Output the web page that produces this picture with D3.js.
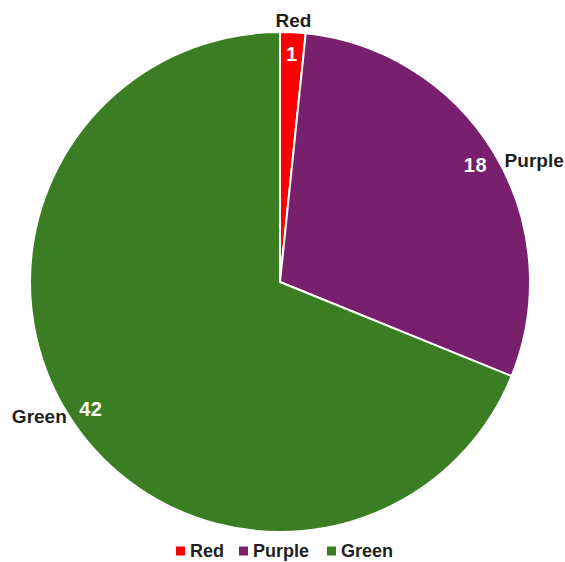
<!DOCTYPE html>
<html><head><meta charset="utf-8">
<script src="https://cdn.jsdelivr.net/npm/d3@7"></script>
<style>body{margin:0;background:#fff}</style>
</head><body>
<svg id="c" width="565" height="562"></svg>
<script>
const categories = ["Red", "Purple", "Green"];
const values = [1, 18, 42];
const colors = ["#FF0000", "#78206E", "#3B7D23"];

const svg = d3.select("#c");
const cx = 280, cy = 282, R = 250;
const font = "'Liberation Sans', Arial, sans-serif";
const data = categories.map((c, i) => ({cat: c, val: values[i], col: colors[i]}));
const pie = d3.pie().value(d => d.val).sort(null);
const arcs = pie(data);
const arc = d3.arc().innerRadius(0).outerRadius(R);
const g = svg.append("g").attr("transform", `translate(${cx},${cy})`);
g.selectAll("path").data(arcs).join("path")
  .attr("d", arc).attr("fill", d => d.data.col)
  .attr("stroke", "#fff").attr("stroke-width", 2).attr("stroke-linejoin", "round");

const mid = d => (d.startAngle + d.endAngle) / 2;
g.selectAll("text.v").data(arcs).join("text").attr("class", "v")
  .attr("x", d => 228 * Math.sin(mid(d)))
  .attr("y", d => -228 * Math.cos(mid(d)))
  .attr("text-anchor", "middle").attr("dy", "0.35em")
  .attr("font-family", font).attr("font-weight", "bold").attr("font-size", 20)
  .attr("letter-spacing", 0.5)
  .attr("fill", "#fff").text(d => d.data.val);

const isTop = d => mid(d) < 0.2;
const isRight = d => mid(d) < Math.PI;
const lr = d => isTop(d) ? 262 : (isRight(d) ? 262 : 257);
const ly = d => isTop(d) ? 0 : (isRight(d) ? 13 : -9);
g.selectAll("text.c").data(arcs).join("text").attr("class", "c")
  .attr("x", d => lr(d) * Math.sin(mid(d)))
  .attr("y", d => -lr(d) * Math.cos(mid(d)) + ly(d))
  .attr("text-anchor", d => isTop(d) ? "middle" : (isRight(d) ? "start" : "end"))
  .attr("dy", "0.35em")
  .attr("font-family", font).attr("font-weight", "bold").attr("font-size", 19)
  .attr("fill", "#1f1f1f").text(d => d.data.cat);

// legend
const lg = svg.append("g").attr("transform", "translate(0,551)");
const lx = [176, 239, 327];
data.forEach((d, i) => {
  lg.append("rect").attr("x", lx[i]).attr("y", -4.5).attr("width", 9).attr("height", 9).attr("fill", d.col);
  lg.append("text").attr("x", lx[i] + 14).attr("y", 0).attr("dy", "0.35em")
    .attr("font-family", font).attr("font-weight", "bold").attr("font-size", 18)
    .attr("fill", "#1f1f1f").text(d.cat);
});
</script>
</body></html>
